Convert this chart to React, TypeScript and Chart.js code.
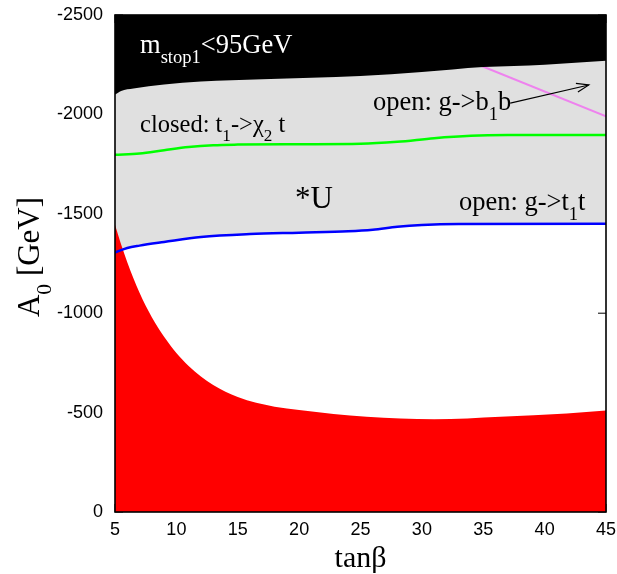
import { useEffect, useRef } from 'react';
import { Chart, registerables } from 'chart.js';

Chart.register(...registerables);

// Axis ticks
const X_TICKS = [5, 10, 15, 20, 25, 30, 35, 40, 45];
const Y_TICKS = [0, -500, -1000, -1500, -2000, -2500];

// Boundary of the m_stop1 < 95 GeV region (black, top)
const stopX = [5, 5.5, 6.5, 9, 12, 17, 25, 30, 35, 40, 45];
const stopA0 = [-2100, -2118, -2130, -2150, -2165, -2177, -2193, -2213, -2238, -2250, -2270];

// closed: t1 -> chi2 t  (green)
const chiX = [5, 7, 9, 11, 13, 15, 20, 25, 28, 31, 34, 37, 45];
const chiA0 = [-1797, -1803, -1820, -1836, -1845, -1848, -1850, -1852, -1862, -1880, -1892, -1896, -1897];

// open: g -> t1 t  (blue), lower edge of the grey band
const gtX = [5, 6, 7, 9, 12, 16, 20, 24, 26, 28, 30, 33, 45];
const gtA0 = [-1305, -1328, -1340, -1358, -1383, -1398, -1405, -1412, -1420, -1435, -1444, -1449, -1450];

// open: g -> b1 b  (violet)
const gbX = [33, 45];
const gbA0 = [-2290, -1990];

// Excluded region at small |A0| (red)
const exclX = [5, 5.5, 6, 6.5, 7, 7.5, 8, 9, 10, 11, 12, 13, 14, 15, 16.5, 18, 20, 22.8, 25.5, 31, 36.4, 41.8, 45];
const exclA0 = [-1445, -1345, -1256, -1176, -1103, -1037, -980, -881, -800, -735, -682, -639, -605, -578, -549, -530, -513, -493, -479, -466, -479, -496, -510];

// Arrow pointing at the g -> b1 b line
const arrowX = [37.2, 43.6];
const arrowA0 = [-2057, -2148];

type Run = { t: string; sub?: boolean };
type Label = { runs: Run[]; x: number; y: number; size: number; color: string };

const LABELS: Label[] = [
  { runs: [{ t: 'm' }, { t: 'stop1', sub: true }, { t: '<95GeV' }], x: 7.04, y: -2309, size: 26.5, color: '#ffffff' },
  { runs: [{ t: 'closed: t' }, { t: '1', sub: true }, { t: '->χ' }, { t: '2', sub: true }, { t: ' t' }], x: 7.04, y: -1911, size: 24.5, color: '#000000' },
  { runs: [{ t: 'open: g->b' }, { t: '1', sub: true }, { t: 'b' }], x: 26.02, y: -2022, size: 26.5, color: '#000000' },
  { runs: [{ t: 'open: g->t' }, { t: '1', sub: true }, { t: 't' }], x: 33.02, y: -1519, size: 26.5, color: '#000000' },
  { runs: [{ t: '*U' }], x: 19.66, y: -1529, size: 31, color: '#000000' },
];

const SERIF = '"Liberation Serif", "Times New Roman", serif';
const SANS = '"Liberation Sans", Arial, sans-serif';

const pts = (xs: number[], ys: number[]) => xs.map((x, i) => ({ x, y: ys[i] }));

function runsWidth(ctx: CanvasRenderingContext2D, runs: Run[], size: number) {
  let w = 0;
  for (const r of runs) {
    ctx.font = `${r.sub ? size * 0.7 : size}px ${SERIF}`;
    w += ctx.measureText(r.t).width;
  }
  return w;
}

function drawRuns(ctx: CanvasRenderingContext2D, runs: Run[], x: number, y: number, size: number, color: string) {
  let cx = x;
  ctx.fillStyle = color;
  ctx.textAlign = 'left';
  ctx.textBaseline = 'alphabetic';
  for (const r of runs) {
    const fs = r.sub ? size * 0.7 : size;
    ctx.font = `${fs}px ${SERIF}`;
    ctx.fillText(r.t, cx, r.sub ? y + size * 0.38 : y);
    cx += ctx.measureText(r.t).width;
  }
}

const zeroPadding = (s: any) => {
  s.paddingTop = 0;
  s.paddingBottom = 0;
  s.paddingLeft = 0;
  s.paddingRight = 0;
};

const decor = {
  id: 'decor',
  beforeDatasetsDraw(chart: any) {
    const { ctx, chartArea: a, scales } = chart;
    const xs = scales.x;
    const ys = scales.y;
    ctx.save();
    ctx.strokeStyle = '#000';
    ctx.lineWidth = 1;
    ctx.beginPath();
    for (const v of X_TICKS) {
      const px = xs.getPixelForValue(v);
      ctx.moveTo(px, a.bottom);
      ctx.lineTo(px, a.bottom - 8);
      ctx.moveTo(px, a.top);
      ctx.lineTo(px, a.top + 8);
    }
    for (const v of Y_TICKS) {
      const py = ys.getPixelForValue(v);
      ctx.moveTo(a.left, py);
      ctx.lineTo(a.left + 8, py);
      ctx.moveTo(a.right, py);
      ctx.lineTo(a.right - 8, py);
    }
    ctx.stroke();
    ctx.restore();
  },
  afterDatasetsDraw(chart: any) {
    const { ctx, chartArea: a, scales } = chart;
    const xs = scales.x;
    const ys = scales.y;
    ctx.save();

    // arrowhead
    const x0 = xs.getPixelForValue(arrowX[0]);
    const y0 = ys.getPixelForValue(arrowA0[0]);
    const x1 = xs.getPixelForValue(arrowX[1]);
    const y1 = ys.getPixelForValue(arrowA0[1]);
    const ang = Math.atan2(y1 - y0, x1 - x0);
    const hl = 13;
    const ha = 0.35;
    ctx.strokeStyle = '#000';
    ctx.lineWidth = 1.2;
    ctx.beginPath();
    ctx.moveTo(x1 - hl * Math.cos(ang - ha), y1 - hl * Math.sin(ang - ha));
    ctx.lineTo(x1, y1);
    ctx.lineTo(x1 - hl * Math.cos(ang + ha), y1 - hl * Math.sin(ang + ha));
    ctx.stroke();

    // in-plot labels
    for (const l of LABELS) {
      drawRuns(ctx, l.runs, xs.getPixelForValue(l.x), ys.getPixelForValue(l.y), l.size, l.color);
    }

    // frame
    ctx.strokeStyle = '#000';
    ctx.lineWidth = 1.6;
    ctx.strokeRect(a.left, a.top, a.right - a.left, a.bottom - a.top);

    // x-axis title
    ctx.fillStyle = '#000';
    ctx.font = `30px ${SERIF}`;
    ctx.textAlign = 'center';
    ctx.textBaseline = 'alphabetic';
    ctx.fillText('tanβ', (a.left + a.right) / 2, 567);

    // y-axis title
    const yTitle: Run[] = [{ t: 'A' }, { t: '0', sub: true }, { t: ' [GeV]' }];
    const w = runsWidth(ctx, yTitle, 31);
    ctx.translate(39, 257);
    ctx.rotate(-Math.PI / 2);
    drawRuns(ctx, yTitle, -w / 2, 0, 31, '#000');

    ctx.restore();
  },
};

export default function App() {
  const ref = useRef<HTMLCanvasElement | null>(null);

  useEffect(() => {
    const canvas = ref.current;
    if (!canvas) return;
    const chart = new Chart(canvas, {
      type: 'scatter',
      data: {
        datasets: [
          {
            label: 'allowed band',
            data: pts(gtX, gtA0),
            showLine: true,
            fill: { value: -2500 },
            backgroundColor: '#e0e0e0',
            borderWidth: 0,
            pointRadius: 0,
            cubicInterpolationMode: 'monotone',
            order: 10,
          },
          {
            label: 'g->b1b',
            data: pts(gbX, gbA0),
            showLine: true,
            fill: false,
            borderColor: '#ee82ee',
            borderWidth: 2,
            pointRadius: 0,
            order: 9,
          },
          {
            label: 'mstop1<95GeV',
            data: pts(stopX, stopA0),
            showLine: true,
            fill: { value: -2500 },
            backgroundColor: '#000000',
            borderColor: '#000000',
            borderWidth: 0,
            pointRadius: 0,
            cubicInterpolationMode: 'monotone',
            order: 8,
          },
          {
            label: 'excluded',
            data: pts(exclX, exclA0),
            showLine: true,
            fill: { value: 0 },
            backgroundColor: '#ff0000',
            borderWidth: 0,
            pointRadius: 0,
            cubicInterpolationMode: 'monotone',
            order: 7,
          },
          {
            label: 't1->chi2 t',
            data: pts(chiX, chiA0),
            showLine: true,
            fill: false,
            borderColor: '#00ff00',
            borderWidth: 2.5,
            pointRadius: 0,
            cubicInterpolationMode: 'monotone',
            order: 5,
          },
          {
            label: 'g->t1t',
            data: pts(gtX, gtA0),
            showLine: true,
            fill: false,
            borderColor: '#0000ff',
            borderWidth: 2.5,
            pointRadius: 0,
            cubicInterpolationMode: 'monotone',
            order: 4,
          },
          {
            label: 'arrow',
            data: pts(arrowX, arrowA0),
            showLine: true,
            fill: false,
            borderColor: '#000000',
            borderWidth: 1.2,
            pointRadius: 0,
            order: 3,
          },
        ],
      },
      options: {
        animation: false,
        responsive: false,
        maintainAspectRatio: false,
        events: [],
        layout: { padding: { top: 15, right: 11, left: 0, bottom: 0 } },
        plugins: { legend: { display: false }, tooltip: { enabled: false } },
        scales: {
          x: {
            type: 'linear',
            min: 5,
            max: 45,
            afterBuildTicks: (s: any) => {
              s.ticks = X_TICKS.map((v) => ({ value: v }));
            },
            afterFit: (s: any) => {
              s.height = 62;
              zeroPadding(s);
            },
            ticks: {
              color: '#000',
              font: { family: SANS, size: 18 },
              padding: 7,
              maxRotation: 0,
              callback: (v: any) => String(v),
            },
            grid: { display: false, drawTicks: false },
            border: { display: false },
          },
          y: {
            type: 'linear',
            min: -2500,
            max: 0,
            reverse: true,
            afterBuildTicks: (s: any) => {
              s.ticks = Y_TICKS.map((v) => ({ value: v }));
            },
            afterFit: (s: any) => {
              s.width = 115;
              zeroPadding(s);
            },
            ticks: {
              color: '#000',
              font: { family: SANS, size: 18 },
              padding: 12,
              callback: (v: any) => String(v),
            },
            grid: { display: false, drawTicks: false },
            border: { display: false },
          },
        },
      },
      plugins: [decor],
    } as any);
    return () => chart.destroy();
  }, []);

  return (
    <div style={{ position: 'absolute', left: 0, top: 0, width: 617, height: 574, background: '#fff' }}>
      <canvas ref={ref} width={617} height={574} />
    </div>
  );
}
